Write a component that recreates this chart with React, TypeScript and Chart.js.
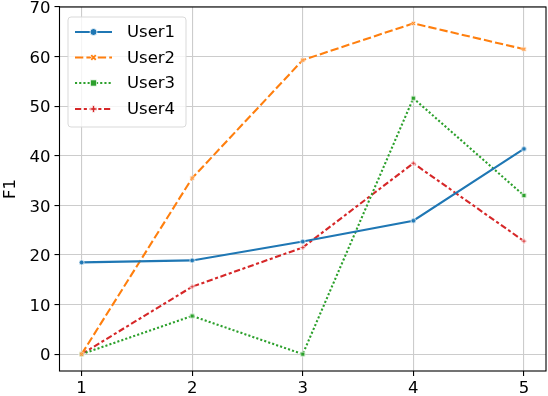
import React, { useEffect, useRef } from "react";
import { Chart, registerables } from "chart.js";

Chart.register(...registerables);

const xValues = [1, 2, 3, 4, 5];
const user1 = [18.5, 18.9, 22.7, 26.9, 41.4];
const user2 = [0, 35.5, 59.3, 66.7, 61.5];
const user3 = [0, 7.7, 0, 51.6, 32.0];
const user4 = [0, 13.6, 21.5, 38.5, 22.8];
const seriesNames = ["User1", "User2", "User3", "User4"];
const yTicks = [0, 10, 20, 30, 40, 50, 60, 70];
const xTicks = [1, 2, 3, 4, 5];

const COLORS = ["#1f77b4", "#ff7f0e", "#2ca02c", "#d62728"];
const DASHES: number[][] = [[], [8.3, 3.1], [2.1, 2.1], [6.2, 2.6, 3.1, 2.6]];
const MARKERS = ["o", "X", "s", "P"];
const FONT = "'DejaVu Sans', sans-serif";
const FS = 16.5;

function drawMarker(ctx: CanvasRenderingContext2D, kind: string, cx: number, cy: number, s: number, color: string) {
  const h = s / 2;
  ctx.save();
  ctx.beginPath();
  if (kind === "o") {
    ctx.arc(cx, cy, h, 0, Math.PI * 2);
  } else if (kind === "s") {
    ctx.rect(cx - h * 0.9, cy - h * 0.9, h * 1.8, h * 1.8);
  } else {
    const w = h / 3;
    const pts = [
      [-w, -h], [w, -h], [w, -w], [h, -w], [h, w], [w, w],
      [w, h], [-w, h], [-w, w], [-h, w], [-h, -w], [-w, -w],
    ];
    const ang = kind === "X" ? Math.PI / 4 : 0;
    const c = Math.cos(ang), sn = Math.sin(ang);
    pts.forEach(([px, py], i) => {
      const x = cx + px * c - py * sn;
      const y = cy + px * sn + py * c;
      if (i === 0) ctx.moveTo(x, y); else ctx.lineTo(x, y);
    });
    ctx.closePath();
  }
  ctx.fillStyle = color;
  ctx.fill();
  ctx.lineWidth = 0.8;
  ctx.strokeStyle = "#ffffff";
  ctx.stroke();
  ctx.restore();
}

function markerCanvas(kind: string, s: number, color: string) {
  const c = document.createElement("canvas");
  const size = Math.ceil(s + 2);
  c.width = size;
  c.height = size;
  const ctx = c.getContext("2d")!;
  drawMarker(ctx, kind, size / 2, size / 2, s, color);
  return c;
}

const framePlugin = {
  id: "frame",
  afterDatasetsDraw(chart: any) {
    const { ctx, chartArea: a } = chart;
    ctx.save();
    ctx.strokeStyle = "#000";
    ctx.lineWidth = 1.1;
    ctx.strokeRect(a.left, a.top, a.right - a.left, a.bottom - a.top);
    ctx.restore();
  },
};

const legendPlugin = {
  id: "customLegend",
  afterDraw(chart: any) {
    const { ctx } = chart;
    const x0 = 68, y0 = 17, w = 118, hgt = 110;
    ctx.save();
    ctx.beginPath();
    const r = 3;
    ctx.moveTo(x0 + r, y0);
    ctx.arcTo(x0 + w, y0, x0 + w, y0 + hgt, r);
    ctx.arcTo(x0 + w, y0 + hgt, x0, y0 + hgt, r);
    ctx.arcTo(x0, y0 + hgt, x0, y0, r);
    ctx.arcTo(x0, y0, x0 + w, y0, r);
    ctx.closePath();
    ctx.fillStyle = "rgba(255,255,255,0.8)";
    ctx.fill();
    ctx.strokeStyle = "#d9d9d9";
    ctx.lineWidth = 1;
    ctx.stroke();
    const rows = [32, 57.5, 83, 109];
    seriesNames.forEach((name, i) => {
      const y = rows[i];
      ctx.beginPath();
      ctx.setLineDash(DASHES[i]);
      ctx.strokeStyle = COLORS[i];
      ctx.lineWidth = 2.1;
      ctx.moveTo(75, y);
      ctx.lineTo(112, y);
      ctx.stroke();
      ctx.setLineDash([]);
      drawMarker(ctx, MARKERS[i], 93.5, y, 7, COLORS[i]);
      ctx.fillStyle = "#000";
      ctx.font = `${FS}px ${FONT}`;
      ctx.textBaseline = "middle";
      ctx.textAlign = "left";
      ctx.fillText(name, 127, y + 1);
    });
    ctx.restore();
  },
};

export default function App() {
  const ref = useRef<HTMLCanvasElement | null>(null);
  useEffect(() => {
    document.body.style.margin = "0";
    const all = [user1, user2, user3, user4];
    const chart = new Chart(ref.current!, {
      type: "line",
      data: {
        datasets: all.map((vals, i) => ({
          label: seriesNames[i],
          data: xValues.map((x, j) => ({ x, y: vals[j] })),
          borderColor: COLORS[i],
          backgroundColor: COLORS[i],
          borderWidth: 2.1,
          borderDash: DASHES[i],
          pointStyle: markerCanvas(MARKERS[i], 5, COLORS[i]) as any,
          pointRadius: 3,
          tension: 0,
          fill: false,
        })),
      },
      options: {
        responsive: false,
        animation: false,
        devicePixelRatio: 1,
        layout: { autoPadding: false, padding: { left: 0.5, right: 2, top: 7, bottom: 0 } },
        plugins: { legend: { display: false }, tooltip: { enabled: false } },
        scales: {
          x: {
            type: "linear",
            min: 0.8,
            max: 5.2,
            afterBuildTicks: (s: any) => { s.ticks = xTicks.map((v) => ({ value: v })); },
            afterFit: (s: any) => { s.height = 25; s.paddingLeft = 0; s.paddingRight = 0; },
            grid: { color: "#cccccc", lineWidth: 1.1, tickColor: "#000", tickLength: 5, drawTicks: true },
            border: { display: false },
            ticks: { color: "#000", font: { family: FONT, size: FS }, padding: 3, maxRotation: 0, callback: (v: any) => String(v) },
          },
          y: {
            type: "linear",
            min: -3.4,
            max: 70,
            afterBuildTicks: (s: any) => { s.ticks = yTicks.map((v) => ({ value: v })); },
            afterFit: (s: any) => { s.width = 59; s.paddingTop = 0; s.paddingBottom = 0; },
            grid: { color: "#cccccc", lineWidth: 1.1, tickColor: "#000", tickLength: 5, drawTicks: true },
            border: { display: false },
            ticks: { color: "#000", font: { family: FONT, size: FS }, padding: 4, labelOffset: 2, callback: (v: any) => String(v) },
            title: { display: true, text: "F1", color: "#000", font: { family: FONT, size: FS }, padding: 0 },
          },
        },
      },
      plugins: [framePlugin, legendPlugin],
    });
    return () => chart.destroy();
  }, []);
  return (
    <div style={{ width: 548, height: 396 }}>
      <canvas ref={ref} width={548} height={396} style={{ display: "block" }} />
    </div>
  );
}
